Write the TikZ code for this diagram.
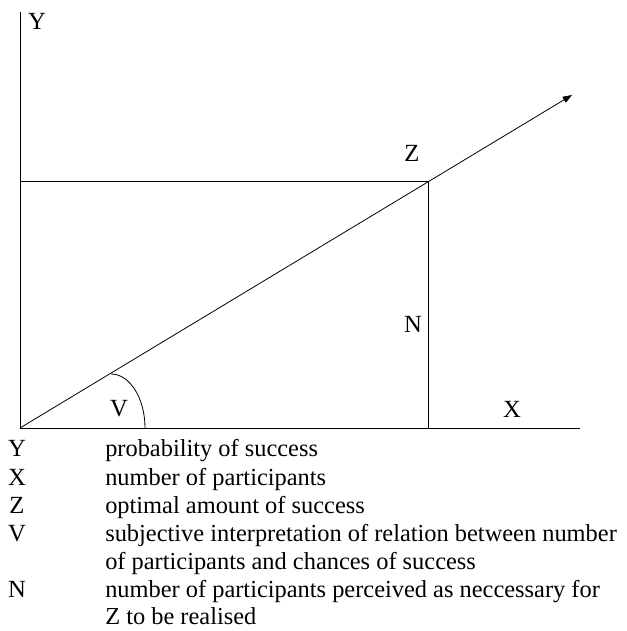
\documentclass[tikz,border=0pt]{standalone}
\usepackage{fontspec}
\setmainfont{Liberation Serif}
\usepackage{tikz}
\usetikzlibrary{arrows.meta, positioning, calc}

\begin{document}
\begin{tikzpicture}[x=0.75pt, y=-0.75pt, >=Triangle,
    axislabel/.style={font=\fontsize{18.5}{21}\selectfont, inner sep=0pt},
    keyletter/.style={font=\fontsize{18.5}{21}\selectfont, inner sep=0pt, anchor=base},
    keytext/.style={font=\fontsize{18.3}{21}\selectfont, inner sep=0pt, anchor=base west, align=left}]
  \useasboundingbox (0,0) rectangle (627,631);

  % axes and helper lines
  \coordinate (O) at (20,428);
  \coordinate (ytop) at (20,12);
  \coordinate (xend) at (580,428);
  \coordinate (Zpt) at (428,181);
  \coordinate (Zleft) at (20,181);
  \coordinate (Zfoot) at (428,428);
  \coordinate (tip) at (572,95);
  \coordinate (arcstart) at (111,374);

  \draw[semithick] (ytop) -- (O) -- (xend);
  \draw[semithick] (Zleft) -- (Zpt) -- (Zfoot);
  \draw[semithick, ->, >={Triangle[length=7pt, width=5pt]}] (O) -- (tip);
  \draw[semithick] (arcstart) arc[start angle=-90, end angle=0, x radius=34, y radius=54];

  \node[axislabel] (ylab) at (37,21) {Y};
  \node[axislabel] (zlab) at (412,153) {Z};
  \node[axislabel] (nlab) at (413,324) {N};
  \node[axislabel] (vlab) at (119,409) {V};
  \node[axislabel] (xlab) at (512,409) {X};

  % key
  \node[keyletter] (ky) at (17,456) {Y};
  \node[keytext] (ty) at (105,456) {probability of success};
  \node[keyletter] (kx) at (17,485) {X};
  \node[keytext] (tx) at (105,485) {number of participants};
  \node[keyletter] (kz) at (17,513) {Z};
  \node[keytext] (tz) at (105,513) {optimal amount of success};
  \node[keyletter] (kv) at (17,541) {V};
  \node[keytext] (tv1) at (105,541) {subjective interpretation of relation between number};
  \node[keytext] (tv2) at (105,569) {of participants and chances of success};
  \node[keyletter] (kn) at (17,597) {N};
  \node[keytext] (tn1) at (105,597) {number of participants perceived as neccessary for};
  \node[keytext] (tn2) at (105,624) {Z to be realised};
\end{tikzpicture}
\end{document}
